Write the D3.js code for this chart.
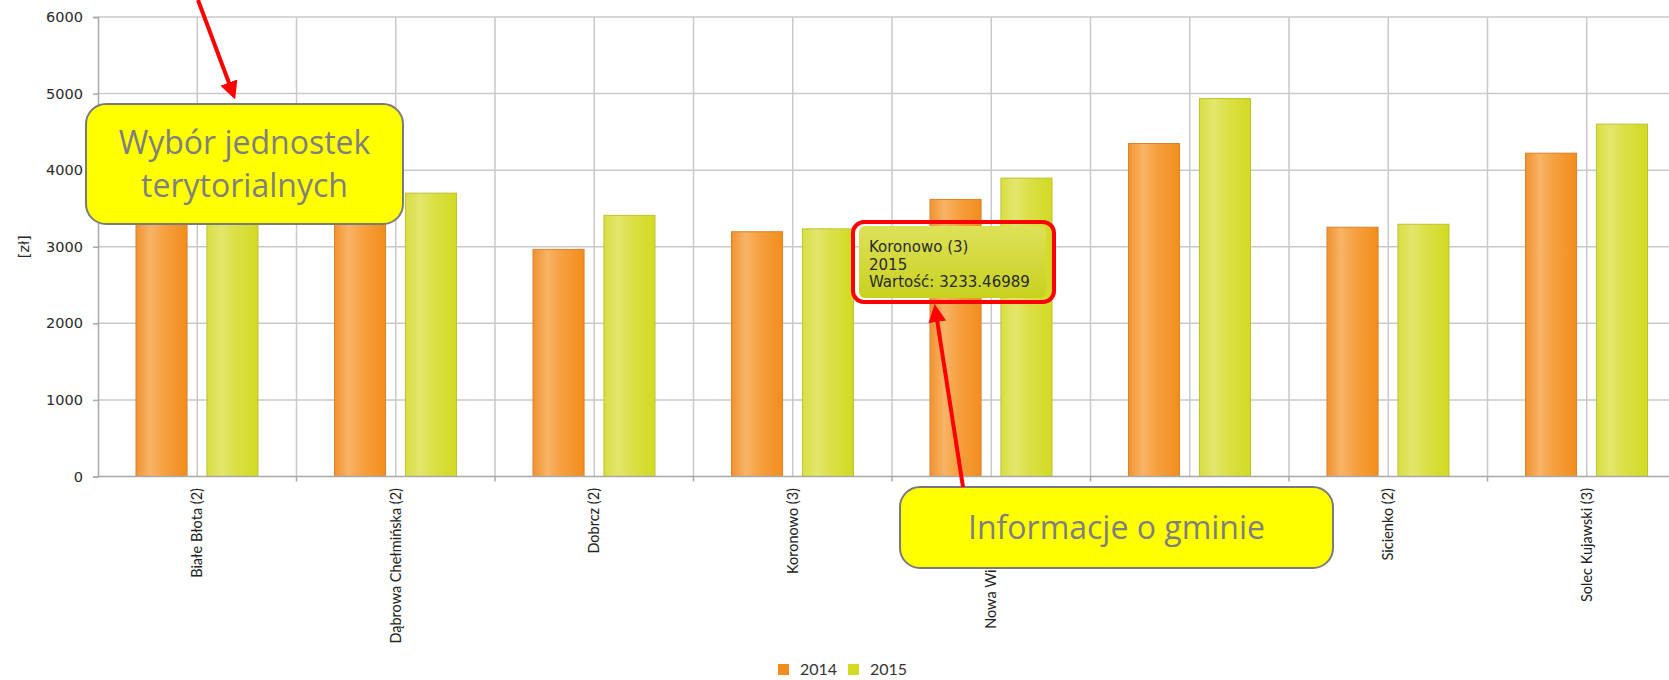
<!DOCTYPE html>
<html>
<head>
<meta charset="utf-8">
<script src="https://cdn.jsdelivr.net/npm/d3@7"></script>
<style>
  body { margin: 0; background: #fff; overflow: hidden; }
</style>
</head>
<body>
<script>
// gminy + values per year [zł]
const categories = ["Białe Błota (2)", "Dąbrowa Chełmińska (2)", "Dobrcz (2)", "Koronowo (3)",
    "Nowa Wieś Wielka (2)", "Osielsko (2)", "Sicienko (2)", "Solec Kujawski (3)"];
const years = ["2014", "2015"];
const values2014 = [3950, 3600, 2966, 3196, 3618, 4348, 3255, 4222];
const values2015 = [3880, 3700, 3410, 3233.46989, 3896, 4935, 3294, 4601];
const yTicks = [0, 1000, 2000, 3000, 4000, 5000, 6000];
const tooltipLines = ["Koronowo (3)", "2015", "Wartość: 3233.46989"];
const legendLabels = ["2014", "2015"];

const W = 1669, H = 680;
const margin = {top: 17, left: 98, bottom: 476.5};
const catWidth = 198.5;

const svg = d3.select("body").append("svg")
    .attr("width", W)
    .attr("height", H)
    .attr("font-family", "Lato, sans-serif");

const colors = {
    "2014": {stops: ["#f09230", "#f8b466", "#f6a040", "#f28d1c"], stroke: "#d9822a"},
    "2015": {stops: ["#d8de42", "#e3e66c", "#dbe047", "#d2da22"], stroke: "#bcc232"}
};

const defs = svg.append("defs");
years.forEach(yr => {
    const g = defs.append("linearGradient").attr("id", "grad" + yr)
        .attr("x1", "0").attr("x2", "1").attr("y1", "0").attr("y2", "0");
    [0, 0.28, 0.55, 1].forEach((o, i) => {
        g.append("stop").attr("offset", o).attr("stop-color", colors[yr].stops[i]);
    });
});
const tg = defs.append("linearGradient").attr("id", "tipGrad")
    .attr("x1", "0").attr("x2", "0").attr("y1", "0").attr("y2", "1");
tg.append("stop").attr("offset", 0).attr("stop-color", "#dde159");
tg.append("stop").attr("offset", 1).attr("stop-color", "#c9d11f");

defs.append("marker").attr("id", "arrowRed")
    .attr("viewBox", "0 0 10 10").attr("refX", 5).attr("refY", 5)
    .attr("markerWidth", 4.5).attr("markerHeight", 4.5)
    .attr("markerUnits", "strokeWidth")
    .attr("orient", "auto")
    .append("path").attr("d", "M0,0 L10,5 L0,10 z").attr("fill", "#ff0000");

// scales
const x0 = d3.scaleBand()
    .domain(categories)
    .range([margin.left, margin.left + catWidth * categories.length]);
const x1 = d3.scaleBand()
    .domain(years)
    .range([38, 160])
    .paddingInner(0.28);
const y = d3.scaleLinear()
    .domain([0, 6000])
    .range([margin.bottom, margin.top]);

// grid
const grid = svg.append("g").attr("stroke", "#c9c9c9").attr("stroke-width", 1.5);
grid.selectAll("line.h")
    .data(yTicks.filter(d => d > 0))
    .join("line")
    .attr("x1", margin.left).attr("x2", W)
    .attr("y1", d => y(d)).attr("y2", d => y(d));
const vLines = [];
categories.forEach(c => { vLines.push(x0(c)); vLines.push(x0(c) + x0.bandwidth() / 2); });
grid.selectAll("line.v")
    .data(vLines.slice(1))
    .join("line")
    .attr("x1", d => d).attr("x2", d => d)
    .attr("y1", margin.top).attr("y2", margin.bottom);

// bars
const series = [values2014, values2015];
const groups = svg.append("g").selectAll("g")
    .data(categories)
    .join("g")
    .attr("transform", c => `translate(${x0(c)},0)`);
groups.selectAll("rect")
    .data((c, i) => years.map((yr, j) => ({year: yr, value: series[j][i]})))
    .join("rect")
    .attr("x", d => x1(d.year))
    .attr("width", x1.bandwidth())
    .attr("y", d => y(d.value))
    .attr("height", d => y(0) - y(d.value))
    .attr("fill", d => `url(#grad${d.year})`)
    .attr("stroke", d => colors[d.year].stroke)
    .attr("stroke-width", 1);

// y axis
const yAxis = svg.append("g")
    .attr("transform", `translate(${margin.left},0)`)
    .call(d3.axisLeft(y).tickValues(yTicks).tickFormat(d3.format("d")).tickSize(5).tickPadding(10));
yAxis.select(".domain").attr("stroke", "#a8a8a8").attr("stroke-width", 1.5);
yAxis.selectAll(".tick line").attr("stroke", "#a8a8a8").attr("stroke-width", 1.5);
yAxis.selectAll(".tick text")
    .attr("font-family", "'DejaVu Sans', sans-serif")
    .attr("font-size", 14.5).attr("fill", "#2a2a2a");

svg.append("text")
    .attr("transform", `translate(24,${(margin.top + margin.bottom) / 2}) rotate(-90)`)
    .attr("text-anchor", "middle").attr("dy", "0.35em")
    .attr("font-family", "'DejaVu Sans', sans-serif")
    .attr("font-size", 14.5).attr("fill", "#2a2a2a")
    .text("[zł]");

// x axis
svg.append("line")
    .attr("x1", margin.left).attr("x2", W)
    .attr("y1", y(0)).attr("y2", y(0))
    .attr("stroke", "#a8a8a8").attr("stroke-width", 1.5);
svg.append("g").selectAll("line")
    .data(categories.slice(1))
    .join("line")
    .attr("x1", c => x0(c)).attr("x2", c => x0(c))
    .attr("y1", y(0)).attr("y2", y(0) + 5)
    .attr("stroke", "#a8a8a8").attr("stroke-width", 1.5);
svg.append("g").selectAll("text")
    .data(categories)
    .join("text")
    .attr("transform", c => `translate(${x0(c) + x0.bandwidth() / 2},488) rotate(-90)`)
    .attr("text-anchor", "end").attr("dy", "0.35em")
    .attr("font-size", 14.5).attr("fill", "#222")
    .text(c => c);

// legend
const legend = svg.append("g").attr("transform", "translate(778,664)");
const li = legend.selectAll("g")
    .data(legendLabels)
    .join("g")
    .attr("transform", (d, i) => `translate(${i * 70},0)`);
li.append("rect").attr("width", 11).attr("height", 11)
    .attr("fill", d => colors[d].stops[3]);
li.append("text").attr("x", 22).attr("y", 11)
    .attr("font-size", 16).attr("fill", "#333")
    .text(d => d);

// tooltip
const tip = svg.append("g");
tip.append("rect")
    .attr("x", 859).attr("y", 226).attr("width", 187).attr("height", 72).attr("rx", 6)
    .attr("fill", "url(#tipGrad)");
tip.append("rect")
    .attr("x", 853).attr("y", 222).attr("width", 201).attr("height", 80).attr("rx", 11)
    .attr("fill", "none").attr("stroke", "#ff0000").attr("stroke-width", 4);
tip.selectAll("text")
    .data(tooltipLines)
    .join("text")
    .attr("x", 869).attr("y", (d, i) => 252 + i * 17.5)
    .attr("font-family", "'DejaVu Sans', sans-serif")
    .attr("font-size", 15).attr("fill", "#2a2a2a")
    .text(d => d);

// annotation callouts
function callout(x, yy, w, h, lines) {
    const g = svg.append("g");
    g.append("rect")
        .attr("x", x).attr("y", yy).attr("width", w).attr("height", h).attr("rx", 20)
        .attr("fill", "#ffff00").attr("stroke", "#7a7a7a").attr("stroke-width", 2);
    const lh = 43;
    const startY = yy + h / 2 - (lines.length - 1) * lh / 2;
    g.selectAll("text")
        .data(lines)
        .join("text")
        .attr("x", x + w / 2)
        .attr("y", (d, i) => startY + i * lh)
        .attr("dy", "0.36em")
        .attr("text-anchor", "middle")
        .attr("font-family", "'Open Sans', sans-serif")
        .attr("font-size", 32).attr("fill", "#7f7f7f")
        .text(d => d);
}
callout(86, 104, 317, 120, ["Wybór jednostek", "terytorialnych"]);
callout(900, 487, 433, 81, ["Informacje o gminie"]);

// red arrows
function arrow(xa, ya, xb, yb) {
    svg.append("line")
        .attr("x1", xa).attr("y1", ya).attr("x2", xb).attr("y2", yb)
        .attr("stroke", "#ff0000").attr("stroke-width", 4)
        .attr("marker-end", "url(#arrowRed)");
}
arrow(198, 0, 232, 91);
arrow(963, 487, 936, 313);
</script>
</body>
</html>
